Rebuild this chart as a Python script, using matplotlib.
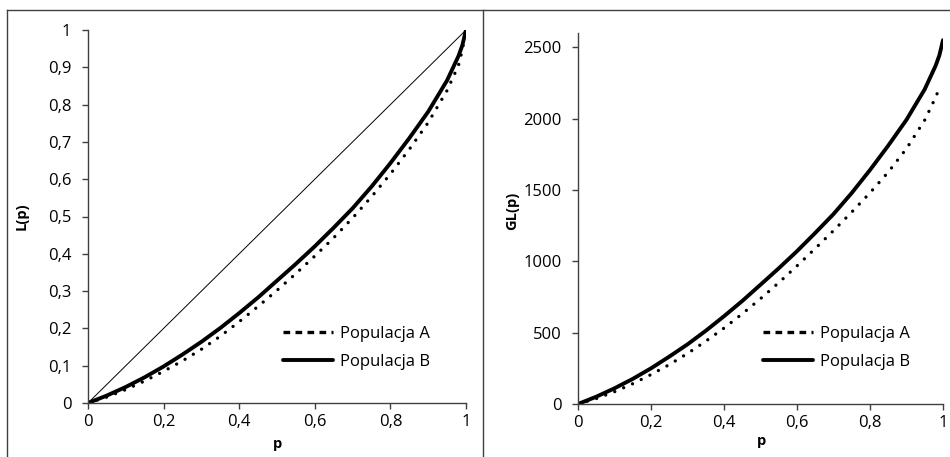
import matplotlib
matplotlib.use('Agg')
import matplotlib.pyplot as plt
from matplotlib.lines import Line2D
from matplotlib.ticker import FuncFormatter

plt.rcParams['font.family'] = ['Open Sans', 'DejaVu Sans']

# udzialy populacji (p) i krzywe Lorenza
p = [0, 0.05, 0.1, 0.15, 0.2, 0.25, 0.3, 0.35, 0.4, 0.45, 0.5, 0.55, 0.6,
     0.65, 0.7, 0.75, 0.8, 0.85, 0.9, 0.95, 0.98, 0.99, 1.0]
L_a = [0, 0.016, 0.036, 0.059, 0.085, 0.113, 0.144, 0.179, 0.218, 0.259, 0.302,
       0.347, 0.394, 0.443, 0.496, 0.553, 0.614, 0.68, 0.752, 0.838, 0.905, 0.945, 1.0]
L_b = [0, 0.02, 0.043, 0.069, 0.098, 0.13, 0.164, 0.201, 0.241, 0.283, 0.328,
       0.373, 0.42, 0.47, 0.522, 0.58, 0.643, 0.71, 0.781, 0.865, 0.93, 0.958, 1.0]

# uogolnione krzywe Lorenza
p_gl_a = p[:-1]
GL_a = [0, 38, 86, 142, 206, 276, 354, 440, 532, 632, 738, 850, 968, 1090,
        1215, 1345, 1480, 1625, 1790, 1990, 2150, 2215]
GL_b = [0, 51, 110, 176, 250, 332, 418, 513, 615, 722, 836, 951, 1071, 1199,
        1331, 1479, 1640, 1811, 1992, 2206, 2372, 2443, 2550]

fig = plt.figure(figsize=(9.5, 4.57), dpi=100)
W, H = 950, 457

def px_axes(x0, x1, ytop, ybot):
    return fig.add_axes([x0 / W, 1 - ybot / H, (x1 - x0) / W, (ybot - ytop) / H])

ax1 = px_axes(88, 466, 30, 403)
ax2 = px_axes(578, 943, 33, 404)

dot = dict(color='black', lw=2.4, linestyle=(0, (0.01, 2.9)), dash_capstyle='round')
dot_leg = dict(color='black', lw=2.4, linestyle=(0, (2.0, 1.6)), dash_capstyle='butt')
solid = dict(color='black', lw=2.8, solid_capstyle='round')

ax1.plot([0, 1], [0, 1], color='black', lw=0.7)
ax1.plot(p, L_a, **dot)
ax1.plot(p, L_b, **solid)
ax1.set_xlim(0, 1)
ax1.set_ylim(0, 1)
ax1.set_xticks([0, 0.2, 0.4, 0.6, 0.8, 1])
ax1.set_yticks([i / 10 for i in range(11)])
ax1.set_ylabel('L(p)', fontweight='bold', fontsize=10.5)
ax1.yaxis.set_label_coords(-0.156, 0.5)
ax1.set_xlabel('p', fontweight='bold', fontsize=10.5)
ax1.xaxis.set_label_coords(0.5, -0.092)

ax2.plot(p_gl_a, GL_a, **dot)
ax2.plot(p, GL_b, **solid)
ax2.set_xlim(0, 1)
ax2.set_ylim(0, 2600)
ax2.set_xticks([0, 0.2, 0.4, 0.6, 0.8, 1])
ax2.set_yticks([0, 500, 1000, 1500, 2000, 2500])
ax2.set_ylabel('GL(p)', fontweight='bold', fontsize=10.5)
ax2.yaxis.set_label_coords(-0.162, 0.52)
ax2.set_xlabel('p', fontweight='bold', fontsize=10.5)
ax2.xaxis.set_label_coords(0.504, -0.08)

comma = FuncFormatter(lambda v, _: ('%g' % round(v, 2)).replace('.', ','))
legend_x = {ax1: 283, ax2: 763}
for ax in (ax1, ax2):
    ax.xaxis.set_major_formatter(comma)
    ax.yaxis.set_major_formatter(comma)
    for s in ('top', 'right'):
        ax.spines[s].set_visible(False)
    for s in ('left', 'bottom'):
        ax.spines[s].set_color('#404040')
        ax.spines[s].set_linewidth(1.0)
    ax.tick_params(direction='out', length=4, width=1.0, color='#404040',
                   labelsize=12)
    ax.tick_params(axis='y', pad=8)
    ax.tick_params(axis='x', pad=4)
    ax.patch.set_visible(False)
    handles = [Line2D([], [], **dot_leg), Line2D([], [], **solid)]
    ax.legend(handles, ['Populacja A', 'Populacja B'], loc='upper left',
              bbox_to_anchor=(legend_x[ax] / W, 1 - 326 / H),
              bbox_transform=fig.transFigure, frameon=False, fontsize=12,
              borderpad=0, borderaxespad=0, handlelength=3.0,
              handletextpad=0.4, labelspacing=0.7)

# ramka obszaru wykresu
frame = dict(color='#404040', lw=1.0, transform=fig.transFigure)
fig.add_artist(Line2D([7 / W, 7 / W], [0, 1 - 10 / H], **frame))
fig.add_artist(Line2D([7 / W, 1], [1 - 10 / H, 1 - 10 / H], **frame))
fig.add_artist(Line2D([483 / W, 483 / W], [0, 1 - 10 / H], **frame))

fig.savefig('out.png', dpi=100)
